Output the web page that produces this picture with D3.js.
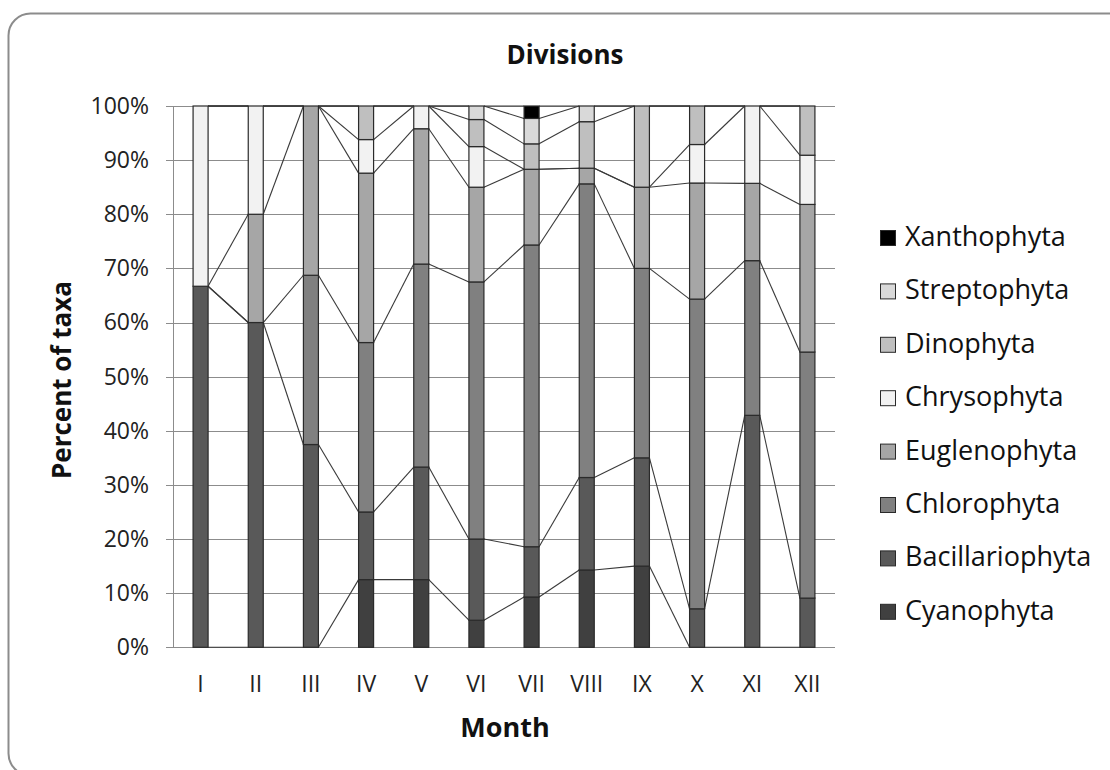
<!DOCTYPE html>
<html>
<head>
<meta charset="utf-8">
<script src="https://cdn.jsdelivr.net/npm/d3@7"></script>
<style>
  html, body { margin: 0; padding: 0; background: #fff; }
  svg { display: block; }
  text { font-family: "Open Sans", "DejaVu Sans", sans-serif; }
</style>
</head>
<body>
<svg id="chart" width="1110" height="770"></svg>
<script>
// ---- data (percent of taxa per month) ----
const months = ["I","II","III","IV","V","VI","VII","VIII","IX","X","XI","XII"];
const seriesNames = ["Cyanophyta","Bacillariophyta","Chlorophyta","Euglenophyta","Chrysophyta","Dinophyta","Streptophyta","Xanthophyta"];
const cyanophyta      = [0,    0,    0,    12.5, 12.5, 5,    9.3,  14.3, 15, 0,    0,    0];
const bacillariophyta = [66.7, 60,   37.5, 12.5, 20.8, 15,   9.3,  17.1, 20, 7.1,  42.9, 9.1];
const chlorophyta     = [0,    0,    31.3, 31.3, 37.5, 47.5, 55.8, 54.3, 35, 57.1, 28.6, 45.5];
const euglenophyta    = [0,    20,   31.3, 31.3, 25,   17.5, 14,   2.9,  15, 21.4, 14.3, 27.3];
const chrysophyta     = [33.3, 20,   0,    6.2,  4.2,  7.5,  0,    0,    0,  7.1,  14.3, 9.1];
const dinophyta       = [0,    0,    0,    6.2,  0,    5,    4.7,  8.6,  15, 7.1,  0,    9.1];
const streptophyta    = [0,    0,    0,    0,    0,    2.5,  4.7,  2.9,  0,  0,    0,    0];
const xanthophyta     = [0,    0,    0,    0,    0,    0,    2.3,  0,    0,  0,    0,    0];
const yTicks = [0, 0.1, 0.2, 0.3, 0.4, 0.5, 0.6, 0.7, 0.8, 0.9, 1.0];
const seriesColors = ["#404040","#595959","#808080","#a6a6a6","#f2f2f2","#bfbfbf","#d9d9d9","#000000"];

const seriesValues = [cyanophyta, bacillariophyta, chlorophyta, euglenophyta, chrysophyta, dinophyta, streptophyta, xanthophyta];
const table = months.map((m, i) => {
  const row = { month: m };
  seriesNames.forEach((s, k) => row[s] = seriesValues[k][i]);
  return row;
});

const svg = d3.select("#chart");

// frame
svg.append("rect")
  .attr("x", 8.5).attr("y", 13.5)
  .attr("width", 1140).attr("height", 762)
  .attr("rx", 22).attr("ry", 22)
  .attr("fill", "#fff").attr("stroke", "#8c8c8c").attr("stroke-width", 2);

const plot = { left: 173, right: 835, top: 106, bottom: 647.3 };

const x = d3.scaleBand().domain(months)
  .range([plot.left, plot.right])
  .paddingInner(0.728).paddingOuter(0.364);
const y = d3.scaleLinear().domain([0, 1]).range([plot.bottom, plot.top]);

const stack = d3.stack().keys(seriesNames).offset(d3.stackOffsetExpand);
const stacked = stack(table);

// gridlines
svg.append("g").selectAll("line").data(yTicks).join("line")
  .attr("x1", plot.left - 7).attr("x2", plot.right)
  .attr("y1", d => Math.round(y(d)) + 0.5).attr("y2", d => Math.round(y(d)) + 0.5)
  .attr("stroke", "#8c8c8c").attr("stroke-width", 1);
// y axis line
svg.append("line")
  .attr("x1", plot.left + 0.5).attr("x2", plot.left + 0.5)
  .attr("y1", y(1)).attr("y2", y(0))
  .attr("stroke", "#8c8c8c").attr("stroke-width", 1);

// y axis labels
const yAxis = d3.axisLeft(y).tickValues(yTicks).tickFormat(d3.format(".0%")).tickSize(0).tickPadding(24);
const yg = svg.append("g").attr("transform", `translate(${plot.left},0)`).call(yAxis);
yg.select(".domain").remove();
yg.selectAll("text").attr("font-size", 23).attr("fill", "#222")
  .attr("font-family", "'Open Sans', sans-serif");

// x axis labels
const xAxis = d3.axisBottom(x).tickSize(0).tickPadding(28);
const xg = svg.append("g").attr("transform", `translate(0,${plot.bottom})`).call(xAxis);
xg.select(".domain").remove();
xg.selectAll("text").attr("font-size", 23).attr("fill", "#222")
  .attr("font-family", "'Open Sans', sans-serif");

// series lines
const bw = x.bandwidth();
const lineG = svg.append("g");
stacked.forEach(layer => {
  for (let i = 0; i < months.length - 1; i++) {
    lineG.append("line")
      .attr("x1", x(months[i]) + bw).attr("y1", y(layer[i][1]))
      .attr("x2", x(months[i + 1])).attr("y2", y(layer[i + 1][1]))
      .attr("stroke", "#3a3a3a").attr("stroke-width", 1.1);
  }
});

// bars
svg.append("g").selectAll("g").data(stacked).join("g")
  .attr("fill", (d, k) => seriesColors[k])
  .selectAll("rect").data(d => d.filter(v => v[1] - v[0] > 1e-9)).join("rect")
  .attr("x", d => x(d.data.month))
  .attr("y", d => y(d[1]))
  .attr("width", bw)
  .attr("height", d => y(d[0]) - y(d[1]))
  .attr("stroke", "#2a2a2a").attr("stroke-width", 1.2);

// title
svg.append("text").attr("x", 565).attr("y", 64).attr("text-anchor", "middle")
  .attr("font-size", 26).attr("font-weight", "bold").attr("fill", "#111").text("Divisions");
// axis titles
svg.append("text").attr("x", 505).attr("y", 737).attr("text-anchor", "middle")
  .attr("font-size", 27).attr("font-weight", "bold").attr("fill", "#111").text("Month");
svg.append("text").attr("transform", "translate(71,380) rotate(-90)").attr("text-anchor", "middle")
  .attr("font-size", 26).attr("font-weight", "bold").attr("fill", "#111").text("Percent of taxa");

// legend (reverse order)
const legendNames = seriesNames.slice().reverse();
const leg = svg.append("g").selectAll("g").data(legendNames).join("g")
  .attr("transform", (d, i) => `translate(0,${246 + i * 53.4})`);
leg.append("rect").attr("x", 880.5).attr("y", -15.5).attr("width", 15).attr("height", 15)
  .attr("fill", d => seriesColors[seriesNames.indexOf(d)])
  .attr("stroke", "#2a2a2a").attr("stroke-width", 1);
leg.append("text").attr("x", 905).attr("y", 0)
  .attr("font-size", 27).attr("fill", "#111").text(d => d);
</script>
</body>
</html>
